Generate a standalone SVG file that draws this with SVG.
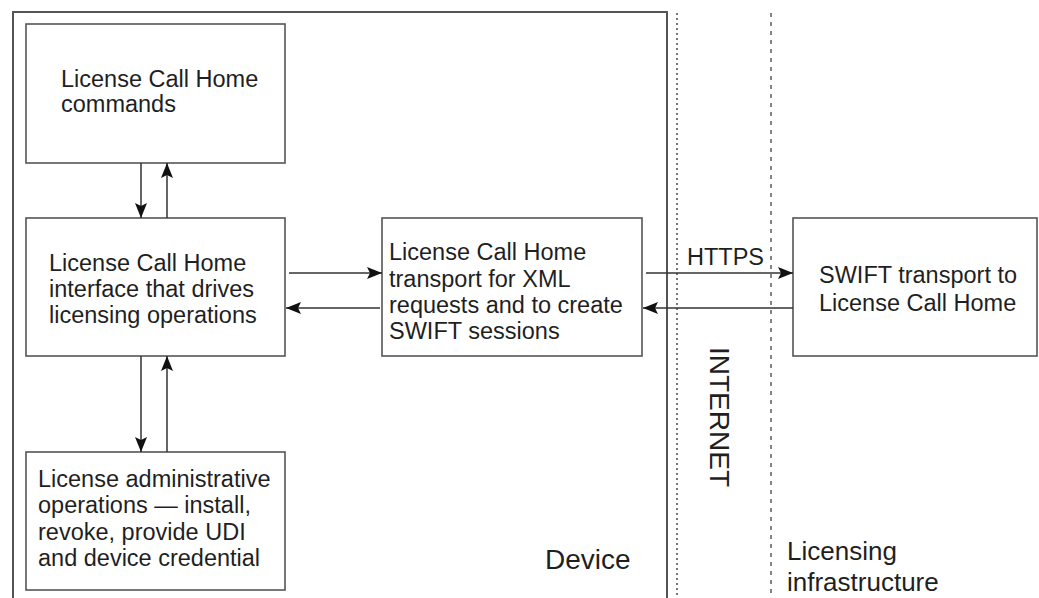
<svg xmlns="http://www.w3.org/2000/svg" width="1039" height="598" viewBox="0 0 1039 598">
<defs>
<style>
.box{fill:#fff;stroke:#555;stroke-width:1.6}
.t{font-family:"Liberation Sans",Arial,sans-serif;font-size:23.5px;fill:#1f1f1f}
.big{font-family:"Liberation Sans",Arial,sans-serif;font-size:28px;fill:#1f1f1f}
.c{stroke:#333;stroke-width:1.5;fill:none;marker-end:url(#ah)}
</style>
<marker id="ah" viewBox="0 0 15 12" refX="15" refY="6" markerWidth="15" markerHeight="12" markerUnits="userSpaceOnUse" orient="auto">
<path d="M0,0 L15,6 L0,12 L3,6 Z" fill="#111"/>
</marker>
</defs>
<rect width="1039" height="598" fill="#fff"/>
<g id="regions">
<path d="M13,598 V12 H667 V598" fill="none" stroke="#555" stroke-width="2"/>
<line x1="677" y1="13" x2="677" y2="598" stroke="#777" stroke-width="2" stroke-dasharray="2 3"/>
<line x1="771" y1="13" x2="771" y2="598" stroke="#666" stroke-width="1.6" stroke-dasharray="4 5"/>
<text class="big" x="545" y="569">Device</text>
<text class="big" x="787" y="560" style="font-size:26px">Licensing</text>
<text class="big" x="787" y="591" style="font-size:26px">infrastructure</text>
<text class="big" transform="translate(710,347) rotate(90)">INTERNET</text>
</g>
<g id="node-commands">
<rect class="box" x="26" y="24" width="259" height="139"/>
<text class="t" x="61" y="87">License Call Home</text>
<text class="t" x="61" y="112">commands</text>
</g>
<g id="node-interface">
<rect class="box" x="26" y="218" width="259" height="138"/>
<text class="t" x="49" y="271">License Call Home</text>
<text class="t" x="49" y="297">interface that drives</text>
<text class="t" x="49" y="323">licensing operations</text>
</g>
<g id="node-admin">
<rect class="box" x="26" y="452" width="259" height="138"/>
<text class="t" x="38" y="487">License administrative</text>
<text class="t" x="38" y="513">operations — install,</text>
<text class="t" x="38" y="540">revoke, provide UDI</text>
<text class="t" x="38" y="566">and device credential</text>
</g>
<g id="node-transport">
<rect class="box" x="382" y="218" width="260" height="138"/>
<text class="t" x="389" y="260">License Call Home</text>
<text class="t" x="389" y="287">transport for XML</text>
<text class="t" x="389" y="313">requests and to create</text>
<text class="t" x="389" y="339">SWIFT sessions</text>
</g>
<g id="node-swift">
<rect class="box" x="793" y="218" width="244" height="138"/>
<text class="t" x="819" y="283">SWIFT transport to</text>
<text class="t" x="819" y="311">License Call Home</text>
</g>
<g id="connectors">
<line class="c" x1="141" y1="163" x2="141" y2="218"/>
<line class="c" x1="167" y1="218" x2="167" y2="163"/>
<line class="c" x1="141" y1="356" x2="141" y2="452"/>
<line class="c" x1="167" y1="452" x2="167" y2="356"/>
<line class="c" x1="289" y1="273" x2="382" y2="273"/>
<line class="c" x1="380" y1="308" x2="286" y2="308"/>
<line class="c" x1="646" y1="273" x2="793" y2="273"/>
<line class="c" x1="793" y1="308" x2="643" y2="308"/>
<text class="t" x="687" y="265">HTTPS</text>
</g>
</svg>
